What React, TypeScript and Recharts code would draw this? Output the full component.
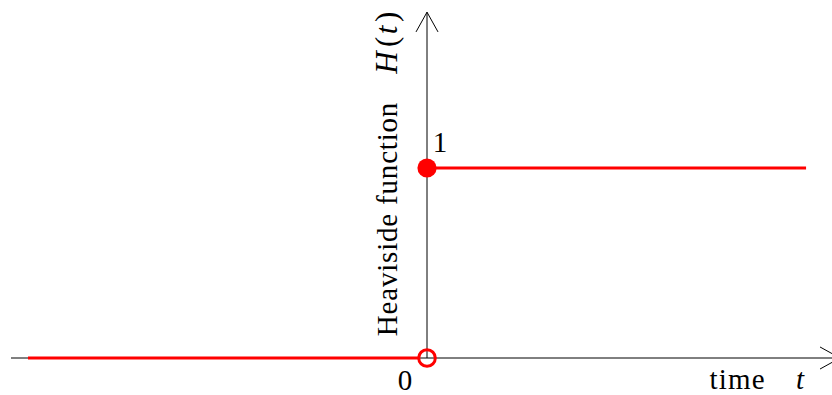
import React from 'react';
import { ComposedChart, XAxis, YAxis, ReferenceDot, ReferenceLine } from 'recharts';

// Heaviside step: H(t) = 0 for t < 0, 1 for t >= 0
const lowSegT = [-5, -0.11];
const lowSegH = [0, 0];
const highSegT = [0, 4.75];
const highSegH = [1, 1];
const jumpT = 0;
const closedValue = 1;
const openValue = 0;

// axes extents and arrow heads (in data units)
const tDomain = [-5.351, 5.075];
const hDomain = [-0.1947, 1.884];
const tAxisT = [-5.213, 5.175];
const tAxisH = [0, 0];
const hAxisT = [0, 0];
const hAxisH = [0, 1.82];
const tArrowT = [4.925, 5.175, 4.925];
const tArrowH = [0.058, 0, -0.058];
const hArrowT = [-0.138, 0, 0.138];
const hArrowH = [1.716, 1.82, 1.716];

const tickZero = '0';
const tickOne = '1';
const xTitle = 'time';
const xVar = 't';
const yTitle = 'Heaviside function';
const yVar = 'H';
const yArg = 't';

const seg = (ts: number[], hs: number[], i: number) => [
  { x: ts[i], y: hs[i] },
  { x: ts[i + 1], y: hs[i + 1] },
];

const RED = '#ff0000';
const TXT: React.CSSProperties = { fontFamily: "'Liberation Serif', 'DejaVu Serif', serif", fontSize: 29 };

export default function App() {
  return (
    <div style={{ position: 'absolute', left: 0, top: 0, fontFamily: "'Liberation Serif', serif" }}>
      <ComposedChart width={832} height={395} margin={{ top: 0, right: 0, bottom: 0, left: 0 }}>
        <XAxis dataKey="t" type="number" domain={tDomain} allowDataOverflow hide />
        <YAxis type="number" domain={hDomain} allowDataOverflow hide />
        <ReferenceLine segment={seg(tAxisT, tAxisH, 0)} stroke="#000" strokeWidth={1} ifOverflow="visible" />
        <ReferenceLine segment={seg(hAxisT, hAxisH, 0)} stroke="#000" strokeWidth={1} ifOverflow="visible" />
        <ReferenceLine segment={seg(tArrowT, tArrowH, 0)} stroke="#000" strokeWidth={1} ifOverflow="visible" />
        <ReferenceLine segment={seg(tArrowT, tArrowH, 1)} stroke="#000" strokeWidth={1} ifOverflow="visible" />
        <ReferenceLine segment={seg(hArrowT, hArrowH, 0)} stroke="#000" strokeWidth={1} ifOverflow="visible" />
        <ReferenceLine segment={seg(hArrowT, hArrowH, 1)} stroke="#000" strokeWidth={1} ifOverflow="visible" />
        <ReferenceLine segment={seg(lowSegT, lowSegH, 0)} stroke={RED} strokeWidth={3} ifOverflow="visible" />
        <ReferenceLine segment={seg(highSegT, highSegH, 0)} stroke={RED} strokeWidth={3} ifOverflow="visible" />
        <ReferenceDot
          x={jumpT}
          y={openValue}
          r={8.3}
          ifOverflow="visible"
          shape={(p: any) => <circle cx={p.cx} cy={p.cy} r={8.3} fill="none" stroke={RED} strokeWidth={3} />}
        />
        <ReferenceDot
          x={jumpT}
          y={closedValue}
          r={9.6}
          ifOverflow="visible"
          shape={(p: any) => <circle cx={p.cx} cy={p.cy} r={9.6} fill={RED} stroke="none" />}
        />
        <ReferenceDot
          x={jumpT}
          y={closedValue}
          r={0}
          shape={(p: any) => (
            <text x={p.cx + 13} y={p.cy - 16} textAnchor="middle" style={TXT} fill="#000">
              {tickOne}
            </text>
          )}
        />
        <ReferenceDot
          x={jumpT}
          y={openValue}
          r={0}
          shape={(p: any) => (
            <g>
              <text x={p.cx - 22} y={p.cy + 32} textAnchor="middle" style={TXT} fill="#000">
                {tickZero}
              </text>
              <text
                transform={`translate(${p.cx - 30},${p.cy - 139}) rotate(-90)`}
                textAnchor="middle"
                style={{ ...TXT, letterSpacing: 0.8 }}
                fill="#000"
              >
                {yTitle}
              </text>
              <text
                transform={`translate(${p.cx - 30},${p.cy - 316}) rotate(-90)`}
                textAnchor="middle"
                style={{ ...TXT, fontSize: 31, letterSpacing: 1.5 }}
                fill="#000"
              >
                <tspan fontStyle="italic">{yVar}</tspan>
                <tspan dx={3}>(</tspan>
                <tspan dx={1} fontStyle="italic">{yArg}</tspan>
                <tspan dx={2}>)</tspan>
              </text>
            </g>
          )}
        />
        <ReferenceDot
          x={highSegT[1]}
          y={openValue}
          r={0}
          ifOverflow="visible"
          shape={(p: any) => (
            <g>
              <text x={p.cx - 68.5} y={p.cy + 31} textAnchor="middle" style={{ ...TXT, letterSpacing: 1.2 }} fill="#000">
                {xTitle}
              </text>
              <text x={p.cx - 6} y={p.cy + 31} textAnchor="middle" style={{ ...TXT, fontStyle: 'italic' }} fill="#000">
                {xVar}
              </text>
            </g>
          )}
        />
      </ComposedChart>
    </div>
  );
}
